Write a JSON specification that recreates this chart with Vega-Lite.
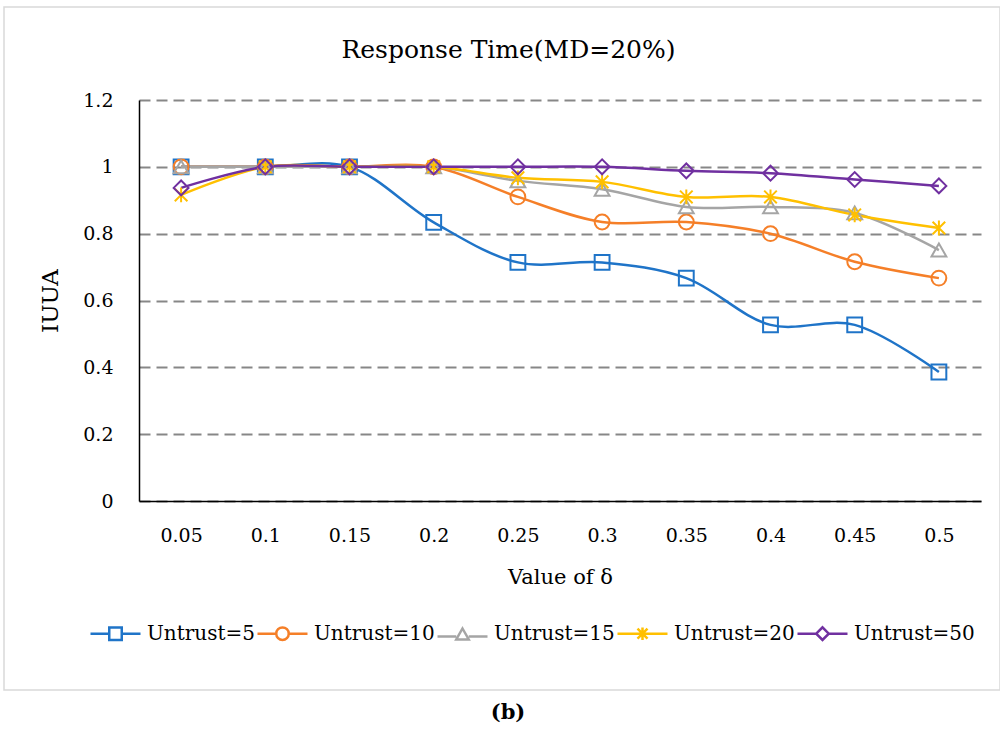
{
  "$schema": "https://vega.github.io/schema/vega-lite/v6.json",
  "width": 996,
  "height": 683,
  "padding": {"left": 4, "top": 7, "right": 0, "bottom": 0},
  "autosize": {"type": "pad"},
  "background": "white",
  "config": {
    "font": "DejaVu Serif",
    "view": {"stroke": "#d9d9d9", "strokeWidth": 1.5}
  },
  "title": {"text": "(b)", "orient": "bottom", "anchor": "middle", "dx": 6, "offset": 12, "fontSize": 21, "fontWeight": "bold", "color": "black", "font": "DejaVu Serif"},
  "data": {
    "values": [
      {"delta": "0.05", "series": "Untrust=5", "iuua": 1.0},
      {"delta": "0.1", "series": "Untrust=5", "iuua": 1.0},
      {"delta": "0.15", "series": "Untrust=5", "iuua": 1.0},
      {"delta": "0.2", "series": "Untrust=5", "iuua": 0.834},
      {"delta": "0.25", "series": "Untrust=5", "iuua": 0.714},
      {"delta": "0.3", "series": "Untrust=5", "iuua": 0.714},
      {"delta": "0.35", "series": "Untrust=5", "iuua": 0.667},
      {"delta": "0.4", "series": "Untrust=5", "iuua": 0.527},
      {"delta": "0.45", "series": "Untrust=5", "iuua": 0.527},
      {"delta": "0.5", "series": "Untrust=5", "iuua": 0.386},
      {"delta": "0.05", "series": "Untrust=10", "iuua": 1.0},
      {"delta": "0.1", "series": "Untrust=10", "iuua": 1.0},
      {"delta": "0.15", "series": "Untrust=10", "iuua": 1.0},
      {"delta": "0.2", "series": "Untrust=10", "iuua": 1.0},
      {"delta": "0.25", "series": "Untrust=10", "iuua": 0.91},
      {"delta": "0.3", "series": "Untrust=10", "iuua": 0.835},
      {"delta": "0.35", "series": "Untrust=10", "iuua": 0.835},
      {"delta": "0.4", "series": "Untrust=10", "iuua": 0.8},
      {"delta": "0.45", "series": "Untrust=10", "iuua": 0.716},
      {"delta": "0.5", "series": "Untrust=10", "iuua": 0.667},
      {"delta": "0.05", "series": "Untrust=15", "iuua": 1.0},
      {"delta": "0.1", "series": "Untrust=15", "iuua": 1.0},
      {"delta": "0.15", "series": "Untrust=15", "iuua": 1.0},
      {"delta": "0.2", "series": "Untrust=15", "iuua": 1.0},
      {"delta": "0.25", "series": "Untrust=15", "iuua": 0.958},
      {"delta": "0.3", "series": "Untrust=15", "iuua": 0.933},
      {"delta": "0.35", "series": "Untrust=15", "iuua": 0.88},
      {"delta": "0.4", "series": "Untrust=15", "iuua": 0.88},
      {"delta": "0.45", "series": "Untrust=15", "iuua": 0.862},
      {"delta": "0.5", "series": "Untrust=15", "iuua": 0.751},
      {"delta": "0.05", "series": "Untrust=20", "iuua": 0.916},
      {"delta": "0.1", "series": "Untrust=20", "iuua": 1.0},
      {"delta": "0.15", "series": "Untrust=20", "iuua": 1.0},
      {"delta": "0.2", "series": "Untrust=20", "iuua": 1.0},
      {"delta": "0.25", "series": "Untrust=20", "iuua": 0.967},
      {"delta": "0.3", "series": "Untrust=20", "iuua": 0.955},
      {"delta": "0.35", "series": "Untrust=20", "iuua": 0.91},
      {"delta": "0.4", "series": "Untrust=20", "iuua": 0.91},
      {"delta": "0.45", "series": "Untrust=20", "iuua": 0.856},
      {"delta": "0.5", "series": "Untrust=20", "iuua": 0.817},
      {"delta": "0.05", "series": "Untrust=50", "iuua": 0.937},
      {"delta": "0.1", "series": "Untrust=50", "iuua": 1.0},
      {"delta": "0.15", "series": "Untrust=50", "iuua": 1.0},
      {"delta": "0.2", "series": "Untrust=50", "iuua": 1.0},
      {"delta": "0.25", "series": "Untrust=50", "iuua": 1.0},
      {"delta": "0.3", "series": "Untrust=50", "iuua": 1.0},
      {"delta": "0.35", "series": "Untrust=50", "iuua": 0.988},
      {"delta": "0.4", "series": "Untrust=50", "iuua": 0.981},
      {"delta": "0.45", "series": "Untrust=50", "iuua": 0.962},
      {"delta": "0.5", "series": "Untrust=50", "iuua": 0.943}
    ]
  },
  "layer": [
    {
      "mark": {"type": "line", "interpolate": "catmull-rom", "strokeWidth": 2.5},
      "encoding": {
        "x": {
          "field": "delta", "type": "ordinal", "sort": null,
          "scale": {"type": "point", "padding": 0.5, "range": [135, 977]},
          "axis": {
            "orient": "bottom", "offset": -189, "title": "Value of δ",
            "domainColor": "black", "domainWidth": 1.5, "ticks": false,
            "labelAngle": 0, "labelFontSize": 19, "labelColor": "black", "labelPadding": 25,
            "titleFontSize": 21, "titleFontWeight": "normal", "titleColor": "black", "titlePadding": 21,
            "grid": false
          }
        },
        "y": {
          "field": "iuua", "type": "quantitative",
          "scale": {"domain": [0, 1.2], "range": [494, 93], "nice": false, "zero": false},
          "axis": {
            "orient": "left", "offset": -135, "title": "IUUA",
            "values": [0, 0.2, 0.4, 0.6, 0.8, 1, 1.2], "format": "~g",
            "domainColor": "black", "domainWidth": 1.5, "ticks": false,
            "labelFontSize": 19, "labelColor": "black", "labelPadding": 26,
            "titleFontSize": 23, "titleFontWeight": "normal", "titleColor": "black", "titlePadding": 20,
            "grid": true, "gridColor": "#878787", "gridDash": [11, 6], "gridWidth": 2
          }
        },
        "color": {
          "field": "series", "type": "nominal",
          "scale": {
            "domain": ["Untrust=5", "Untrust=10", "Untrust=15", "Untrust=20", "Untrust=50"],
            "range": ["#1f74c8", "#f57f28", "#a5a5a5", "#ffc000", "#7030a0"]
          },
          "legend": {
            "orient": "none", "legendX": 85, "legendY": 600,
            "direction": "horizontal", "columns": 5, "title": null,
            "padding": 0, "symbolSize": 2500, "symbolStrokeWidth": 2.5,
            "labelFontSize": 20, "labelColor": "black", "labelOffset": 5, "columnPadding": -3,
            "labelLimit": 300
          }
        }
      }
    },
    {
      "mark": {"type": "point", "filled": false, "strokeWidth": 2, "size": 220, "opacity": 1},
      "encoding": {
        "x": {"field": "delta", "type": "ordinal", "sort": null, "axis": null},
        "y": {"field": "iuua", "type": "quantitative"},
        "color": {"field": "series", "type": "nominal"},
        "shape": {
          "condition": [
            {"test": "datum.series === 'Untrust=5'", "value": "square"},
            {"test": "datum.series === 'Untrust=10'", "value": "circle"},
            {"test": "datum.series === 'Untrust=15'", "value": "triangle-up"},
            {"test": "datum.series === 'Untrust=20'", "value": "M0,-1V1M-0.85,-0.85L0.85,0.85M-0.85,0.85L0.85,-0.85"}
          ],
          "value": "diamond"
        }
      }
    },
    {
      "transform": [{"filter": "datum.iuua > 5"}],
      "mark": {"type": "point", "filled": false, "strokeWidth": 2.5, "opacity": 1},
      "encoding": {
        "x": {
          "field": "delta", "type": "ordinal", "sort": null,
          "axis": {
            "orient": "top", "offset": 0, "labels": false, "ticks": false, "domain": false, "grid": false,
            "title": "Response Time(MD=20%)", "titleFontSize": 25, "titleFontWeight": "normal", "titleColor": "black",
            "titleX": 504, "titleY": 50, "titleAlign": "center", "titleBaseline": "alphabetic", "titleAngle": 0
          }
        },
        "y": {"field": "iuua", "type": "quantitative"},
        "color": {"field": "series", "type": "nominal"},
        "shape": {
          "field": "series", "type": "nominal",
          "scale": {
            "domain": ["Untrust=5", "Untrust=10", "Untrust=15", "Untrust=20", "Untrust=50"],
            "range": [
              "M-1,0H-0.25M0.25,0H1M-0.25,-0.25H0.25V0.25H-0.25Z",
              "M-1,0H-0.25M0.25,0H1M-0.25,0A0.25,0.25,0,1,1,0.25,0A0.25,0.25,0,1,1,-0.25,0",
              "M-1,0.1H-0.25M0.25,0.1H1M0,-0.22L0.25,0.22H-0.25Z",
              "M-1,0H1M0,-0.25V0.25M-0.2,-0.2L0.2,0.2M-0.2,0.2L0.2,-0.2",
              "M-1,0H-0.25M0.25,0H1M-0.25,0L0,-0.25L0.25,0L0,0.25Z"
            ]
          },
          "legend": {
            "orient": "none", "legendX": 85, "legendY": 600,
            "direction": "horizontal", "columns": 5, "title": null,
            "padding": 0, "symbolSize": 2500, "symbolStrokeWidth": 2.5,
            "labelFontSize": 20, "labelColor": "black", "labelOffset": 5, "columnPadding": -3,
            "labelLimit": 300
          }
        }
      }
    }
  ]
}
